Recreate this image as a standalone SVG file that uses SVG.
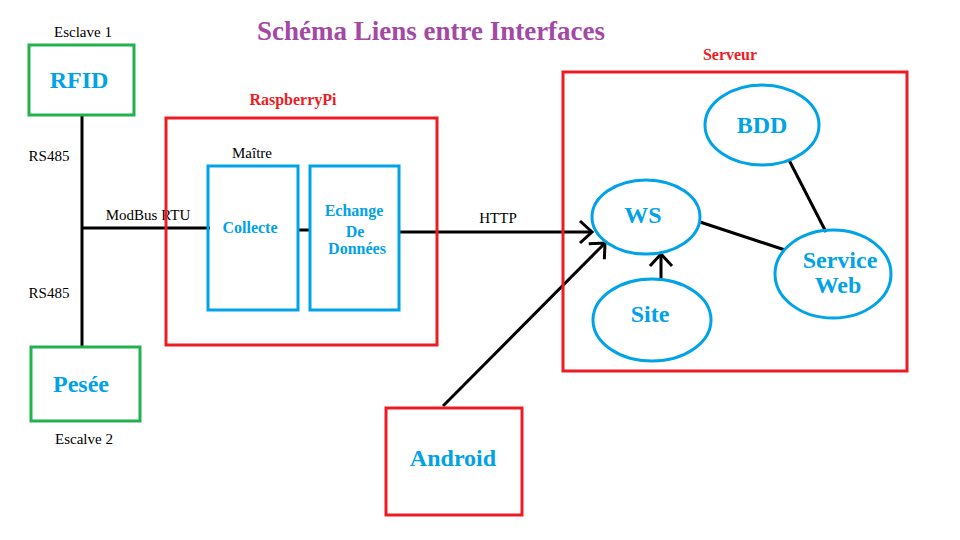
<svg xmlns="http://www.w3.org/2000/svg" width="960" height="540" viewBox="0 0 960 540">
<style>
  text { font-family: "Liberation Serif", "Times New Roman", serif; text-anchor: middle; }
  .green { fill: none; stroke: #22b14c; stroke-width: 3; }
  .red { fill: none; stroke: #ed1c24; stroke-width: 3; }
  .blue { fill: none; stroke: #00a2e8; stroke-width: 3; }
  .big { fill: #00a2e8; font-weight: bold; font-size: 24px; }
  .mid { fill: #00a2e8; font-weight: bold; font-size: 16px; }
  .lbl { fill: #000; font-size: 15px; }
  .rlbl { fill: #ed1c24; font-weight: bold; font-size: 16px; }
  .wire { fill: none; stroke: #000; stroke-width: 3; }
</style>
<defs>
  <marker id="open" markerUnits="userSpaceOnUse" markerWidth="30" markerHeight="30" viewBox="-15 -15 30 30" refX="0" refY="0" orient="auto">
    <path d="M-12,-11 L0,0 L-12,11" fill="none" stroke="#000" stroke-width="3"/>
  </marker>
</defs>
<rect width="960" height="540" fill="#fff"/>
<text x="431" y="40" style="font-size:27px;font-weight:bold;fill:#a349a4">Schéma Liens entre Interfaces</text>

<g id="connectors">
  <line class="wire" x1="82" y1="116" x2="82" y2="346"/>
  <line class="wire" x1="82" y1="228" x2="210" y2="228"/>
  <line class="wire" x1="297" y1="230" x2="311" y2="230"/>
  <line class="wire" x1="399" y1="232" x2="592" y2="232" marker-end="url(#open)"/>
  <line class="wire" x1="443" y1="406" x2="605" y2="243" marker-end="url(#open)"/>
  <line class="wire" x1="661" y1="281" x2="661" y2="254" marker-end="url(#open)"/>
  <line class="wire" x1="700" y1="222" x2="785" y2="250"/>
  <line class="wire" x1="789" y1="160" x2="826" y2="232"/>
  <text class="lbl" x="49" y="161">RS485</text>
  <text class="lbl" x="49" y="298">RS485</text>
  <text class="lbl" x="148" y="220">ModBus RTU</text>
  <text class="lbl" x="498" y="223">HTTP</text>
</g>

<g id="rfid">
  <rect class="green" x="29" y="45" width="105" height="70"/>
  <text class="big" x="79" y="88">RFID</text>
  <text class="lbl" x="83" y="37">Esclave 1</text>
</g>

<g id="pesee">
  <rect class="green" x="31" y="347" width="109" height="74"/>
  <text class="big" x="81" y="392">Pesée</text>
  <text class="lbl" x="84" y="444">Escalve 2</text>
</g>

<g id="raspberrypi">
  <rect class="red" x="166" y="118" width="271" height="227"/>
  <text class="rlbl" x="293" y="105">RaspberryPi</text>
</g>

<g id="collecte">
  <rect class="blue" x="208" y="166" width="90" height="144"/>
  <text class="mid" x="250" y="233">Collecte</text>
  <text class="lbl" x="252" y="158">Maître</text>
</g>

<g id="echange">
  <rect class="blue" x="310" y="166" width="89" height="144"/>
  <text class="mid" x="354" y="216">Echange</text>
  <text class="mid" x="355" y="237">De</text>
  <text class="mid" x="357" y="254">Données</text>
</g>

<g id="serveur">
  <rect class="red" x="563" y="72" width="344" height="299"/>
  <text class="rlbl" x="730" y="60">Serveur</text>
</g>

<g id="bdd">
  <ellipse class="blue" cx="762" cy="125" rx="57" ry="40"/>
  <text class="big" x="762" y="133">BDD</text>
</g>

<g id="ws">
  <ellipse class="blue" cx="646" cy="217" rx="54" ry="37"/>
  <text class="big" x="643" y="223">WS</text>
</g>

<g id="site">
  <ellipse class="blue" cx="652" cy="320" rx="59" ry="41"/>
  <text class="big" x="650" y="322">Site</text>
</g>

<g id="serviceweb">
  <ellipse class="blue" cx="833" cy="274" rx="58" ry="44"/>
  <text class="big" x="840" y="268">Service</text>
  <text class="big" x="838" y="293">Web</text>
</g>

<g id="android">
  <rect class="red" x="386" y="408" width="136" height="107"/>
  <text class="big" x="453" y="466">Android</text>
</g>
</svg>
